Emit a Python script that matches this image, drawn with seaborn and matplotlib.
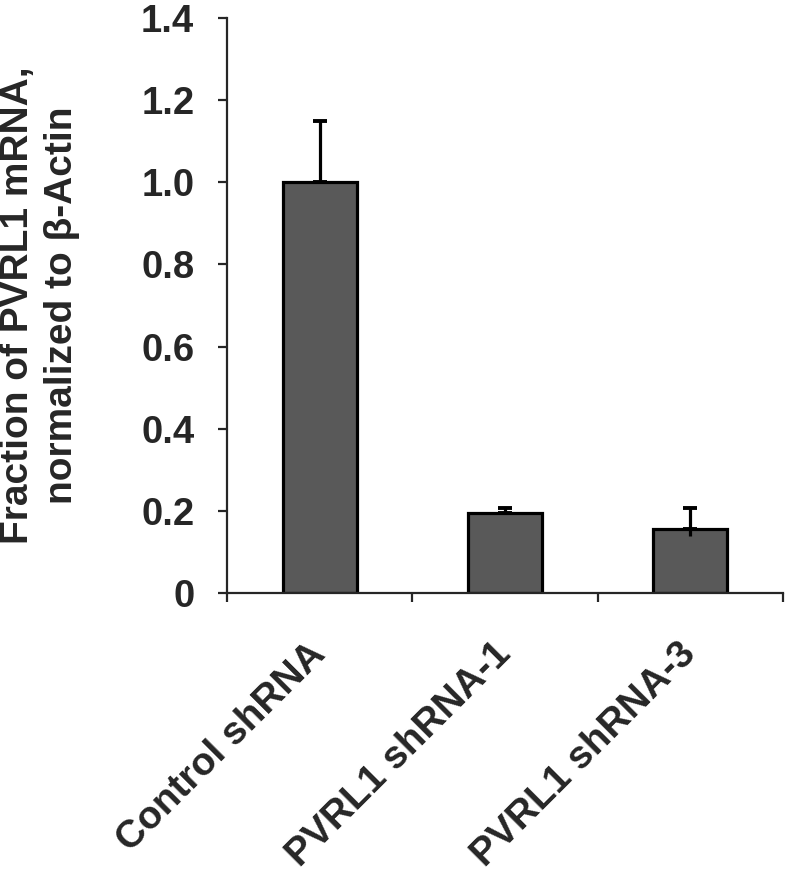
import numpy as np
import matplotlib
matplotlib.use("Agg")
import matplotlib.pyplot as plt
import seaborn as sns

# data
categories = ["Control shRNA", "PVRL1 shRNA-1", "PVRL1 shRNA-3"]
values = [1.0, 0.195, 0.156]
err_up = [0.15, 0.013, 0.05]
err_down = [0.0, 0.0, 0.017]
y_ticks = [0, 0.2, 0.4, 0.6, 0.8, 1.0, 1.2, 1.4]
y_tick_labels = ["0", "0.2", "0.4", "0.6", "0.8", "1.0", "1.2", "1.4"]

sns.set_style("ticks")
plt.rcParams['font.family'] = ['Liberation Sans', 'DejaVu Sans']
plt.rcParams['font.weight'] = 'bold'

fig = plt.figure(figsize=(7.86, 8.74), dpi=100)
ax = fig.add_axes([227 / 786, (874 - 593) / 874, (783 - 227) / 786, (593 - 18) / 874])

sns.barplot(x=categories, y=values, color="#595959", edgecolor="black",
            linewidth=2.3, width=0.4, saturation=1, ax=ax)

pos = np.arange(len(categories))
ax.errorbar(pos, values, yerr=[np.zeros(len(values)), err_up], fmt="none",
            ecolor="black", elinewidth=2.3, capsize=5, capthick=2.8, zorder=5)
ax.vlines(pos, np.array(values) - np.array(err_down), values,
          color="black", linewidth=2.3, zorder=5)

ax.set_ylim(0, 1.4)
ax.set_xlim(-0.5, 2.5)
ax.set_yticks(y_ticks)
ax.set_yticklabels(y_tick_labels)

# Excel-style: ticks between categories, labels at centres
ax.set_xticks([-0.5, 0.5, 1.5, 2.5])
ax.set_xticklabels([])
ax.set_xticks(pos, minor=True)
ax.set_xticklabels(categories, minor=True, rotation=45, ha="right",
                   va="center", rotation_mode="anchor")
ax.tick_params(axis="x", which="minor", length=0, pad=40, labelsize=28)
ax.tick_params(axis="x", which="major", length=6.5, width=1.6)
ax.tick_params(axis="y", length=6.5, width=1.6, pad=17, labelsize=27.5)

for lab in ax.get_xticklabels(minor=True) + ax.get_yticklabels():
    lab.set_fontweight("bold")

ax.set_xlabel("")
ax.set_ylabel("Fraction of PVRL1 mRNA,\nnormalized to β-Actin",
              fontsize=28, fontweight="bold", labelpad=44, linespacing=1.3)

sns.despine(ax=ax)
for side in ["left", "bottom"]:
    ax.spines[side].set_linewidth(1.6)

fig.savefig("out.png", dpi=100)
